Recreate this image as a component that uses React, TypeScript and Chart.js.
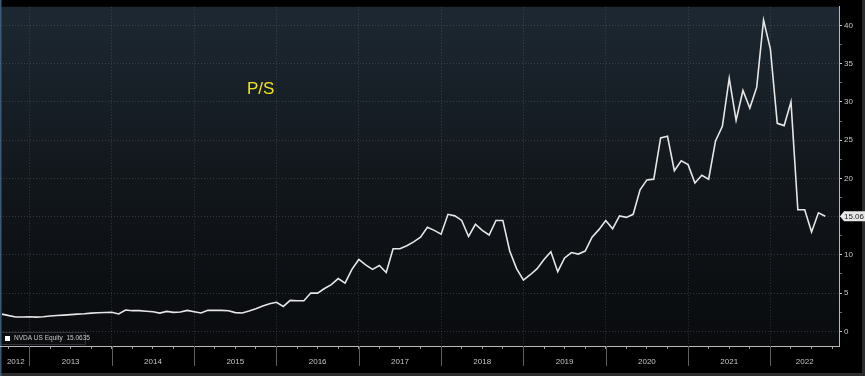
import React, { useEffect, useRef } from 'react';
import { Chart, registerables } from 'chart.js';

Chart.register(...registerables);

// Monthly P/S ratio, Sep 2012 (index 0) .. Sep 2022 (index 120)
const firstMonthIndexOfJan2013 = 4;
const yearLabels = ['2012', '2013', '2014', '2015', '2016', '2017', '2018', '2019', '2020', '2021', '2022'];
const psValues = [
  2.25, 2.05, 1.88, 1.88, 1.9, 1.86, 1.9, 2.0, 2.07, 2.12, 2.18, 2.25,
  2.3, 2.38, 2.43, 2.46, 2.5, 2.27, 2.78, 2.7, 2.7, 2.62, 2.55, 2.38,
  2.6, 2.48, 2.52, 2.74, 2.56, 2.39, 2.74, 2.74, 2.74, 2.7, 2.45, 2.4,
  2.65, 2.95, 3.3, 3.6, 3.8, 3.25, 4.05, 4.0, 4.0, 5.0, 5.0, 5.6,
  6.1, 6.9, 6.3, 8.1, 9.4, 8.7, 8.1, 8.6, 7.7, 10.8, 10.8, 11.2,
  11.7, 12.3, 13.6, 13.2, 12.7, 15.3, 15.1, 14.5, 12.4, 14.0, 13.2, 12.6,
  14.5, 14.5, 10.5, 8.2, 6.7, 7.4, 8.2, 9.4, 10.4, 7.8, 9.6, 10.3,
  10.1, 10.5, 12.3, 13.3, 14.5, 13.4, 15.1, 14.9, 15.3, 18.5, 19.8, 19.9,
  25.3, 25.5, 21.0, 22.3, 21.8, 19.4, 20.4, 19.9, 24.9, 26.8, 33.1, 27.6,
  31.5, 29.2, 31.9, 40.7, 36.9, 27.2, 26.9, 30.0, 15.9, 15.9, 13.0, 15.5,
  15.06,
];
const yMajorTicks = [0, 5, 10, 15, 20, 25, 30, 35, 40];
const titleText = 'P/S';
const legendText = 'NVDA US Equity  15.0635';
const lastValueText = '15.06';
const lastValue = 15.06;

const X_MIN = -0.3;
const X_MAX = 122;
const Y_MIN = -1.92;
const Y_MAX = 42.44;

const FONT = "'Liberation Sans', Arial, sans-serif";
const GRID = 'rgba(110,118,128,0.38)';

export default function App() {
  const canvasRef = useRef<HTMLCanvasElement | null>(null);

  useEffect(() => {
    const canvas = canvasRef.current;
    if (!canvas) return;

    const yearStarts = yearLabels.slice(1).map((_, k) => firstMonthIndexOfJan2013 + 12 * k);
    const bounds = [X_MIN, ...yearStarts, X_MAX];
    const labelPos: Record<string, string> = {};
    yearLabels.forEach((yl, k) => {
      const mid = (bounds[k] + bounds[k + 1]) / 2;
      labelPos[String(Math.round(mid))] = yl;
    });
    const labelValues = Object.keys(labelPos).map(Number);
    const quarterTicks: number[] = [];
    for (let v = 1; v <= X_MAX; v += 3) quarterTicks.push(v);
    const xTickValues = Array.from(new Set([...quarterTicks, ...labelValues])).sort((a, b) => a - b);
    const isQuarter = (v: number) => (v - 1) % 3 === 0;
    const isYearStart = (v: number) => yearStarts.includes(v);

    const yTickValues: number[] = [];
    for (let v = 0; v <= 40; v += 2.5) yTickValues.push(v);

    const bgPlugin = {
      id: 'bg',
      beforeDraw(chart: any) {
        const { ctx, chartArea, width, height } = chart;
        ctx.save();
        ctx.fillStyle = '#000000';
        ctx.fillRect(0, 0, width, height);
        const g = ctx.createLinearGradient(0, chartArea.top, 0, chartArea.bottom);
        g.addColorStop(0, '#1d2832');
        g.addColorStop(0.5, '#12171c');
        g.addColorStop(1, '#090b0d');
        ctx.fillStyle = g;
        ctx.fillRect(chartArea.left, chartArea.top, chartArea.right - chartArea.left, chartArea.bottom - chartArea.top);
        ctx.fillStyle = '#2a2c2e';
        ctx.fillRect(0, height - 3, width, 3);
        ctx.fillRect(width - 3, 0, 3, height);
        ctx.fillStyle = '#3a5a7a';
        ctx.fillRect(0, 0, 1.5, height);
        ctx.restore();
      },
      afterDraw(chart: any) {
        const { ctx, chartArea, scales } = chart;
        const xs = scales.x;
        const ys = scales.y;
        ctx.save();
        // year separators below the axis
        ctx.strokeStyle = '#5c5f62';
        ctx.lineWidth = 1;
        yearStarts.forEach((v) => {
          const px = Math.round(xs.getPixelForValue(v)) + 0.5;
          ctx.beginPath();
          ctx.moveTo(px, chartArea.bottom);
          ctx.lineTo(px, chartArea.bottom + 20);
          ctx.stroke();
        });
        // title
        ctx.fillStyle = '#efe21c';
        ctx.font = `17px ${FONT}`;
        ctx.textBaseline = 'middle';
        ctx.textAlign = 'left';
        ctx.fillText(titleText, 247, 89);
        // legend box
        ctx.fillStyle = '#0b0d0f';
        ctx.fillRect(1.5, chartArea.bottom - 13, 84, 12);
        ctx.strokeStyle = '#2f3236';
        ctx.strokeRect(1.5, chartArea.bottom - 13.5, 84, 12);
        ctx.fillStyle = '#ffffff';
        ctx.fillRect(5, chartArea.bottom - 10, 5, 5);
        ctx.fillStyle = '#c8c8c8';
        ctx.font = `6.5px ${FONT}`;
        ctx.textBaseline = 'middle';
        ctx.fillText(legendText, 14, chartArea.bottom - 7.5);
        // last value tag
        const py = ys.getPixelForValue(lastValue);
        const x0 = chartArea.right + 1;
        ctx.fillStyle = '#e8e8e8';
        ctx.beginPath();
        ctx.moveTo(x0, py);
        ctx.lineTo(x0 + 4, py - 5);
        ctx.lineTo(865, py - 5);
        ctx.lineTo(865, py + 5);
        ctx.lineTo(x0 + 4, py + 5);
        ctx.closePath();
        ctx.fill();
        ctx.fillStyle = '#1a1a1a';
        ctx.font = `8px ${FONT}`;
        ctx.textBaseline = 'middle';
        ctx.fillText(lastValueText, x0 + 4, py + 0.5);
        ctx.restore();
      },
    };

    const chart = new Chart(canvas, {
      type: 'line',
      data: {
        datasets: [
          {
            label: 'NVDA US Equity',
            data: psValues.map((v, i) => ({ x: i, y: v })),
            borderColor: '#e6e6e6',
            borderWidth: 1.6,
            pointRadius: 0,
            tension: 0,
            fill: false,
          },
        ],
      },
      options: {
        animation: false,
        responsive: false,
        maintainAspectRatio: false,
        layout: { padding: 0 },
        plugins: {
          legend: { display: false },
          title: { display: false },
          tooltip: { enabled: false },
        },
        scales: {
          x: {
            type: 'linear',
            position: 'bottom',
            min: X_MIN,
            max: X_MAX,
            afterBuildTicks(scale: any) {
              scale.ticks = xTickValues.map((v) => ({ value: v }));
            },
            afterFit(scale: any) {
              scale.height = 30;
            },
            grid: {
              drawOnChartArea: true,
              color: (ctx: any) => (ctx.tick && isYearStart(ctx.tick.value) ? GRID : 'rgba(0,0,0,0)'),
              tickColor: (ctx: any) => (ctx.tick && isQuarter(ctx.tick.value) ? '#9a9a9a' : 'rgba(0,0,0,0)'),
              tickLength: 3,
              lineWidth: 1,
            },
            border: { display: true, color: '#b8b8b8', width: 1, dash: [1, 2] },
            ticks: {
              autoSkip: false,
              maxRotation: 0,
              minRotation: 0,
              padding: 8,
              color: '#c4c4c4',
              font: { family: FONT, size: 8 },
              callback: (value: any) => labelPos[String(value)] || '',
            },
          },
          y: {
            type: 'linear',
            position: 'right',
            min: Y_MIN,
            max: Y_MAX,
            afterBuildTicks(scale: any) {
              scale.ticks = yTickValues.map((v) => ({ value: v }));
            },
            afterFit(scale: any) {
              scale.width = 26;
            },
            grid: {
              color: (ctx: any) => (ctx.tick && yMajorTicks.includes(ctx.tick.value) ? GRID : 'rgba(0,0,0,0)'),
              tickColor: (ctx: any) => (ctx.tick && yMajorTicks.includes(ctx.tick.value) ? '#c8c8c8' : '#707070'),
              tickLength: 3,
              lineWidth: 1,
            },
            border: { display: true, color: '#b8b8b8', width: 1, dash: [1, 2] },
            ticks: {
              autoSkip: false,
              padding: 2,
              color: '#c8c8c8',
              font: { family: FONT, size: 8 },
              callback: (value: any) => (yMajorTicks.includes(value) ? String(value) : ''),
            },
          },
        },
      },
      plugins: [bgPlugin],
    });

    return () => {
      chart.destroy();
    };
  }, []);

  return (
    <div style={{ position: 'fixed', left: 0, top: 0, width: 865, height: 376 }}>
      <canvas ref={canvasRef} width={865} height={376} style={{ display: 'block' }} />
    </div>
  );
}
